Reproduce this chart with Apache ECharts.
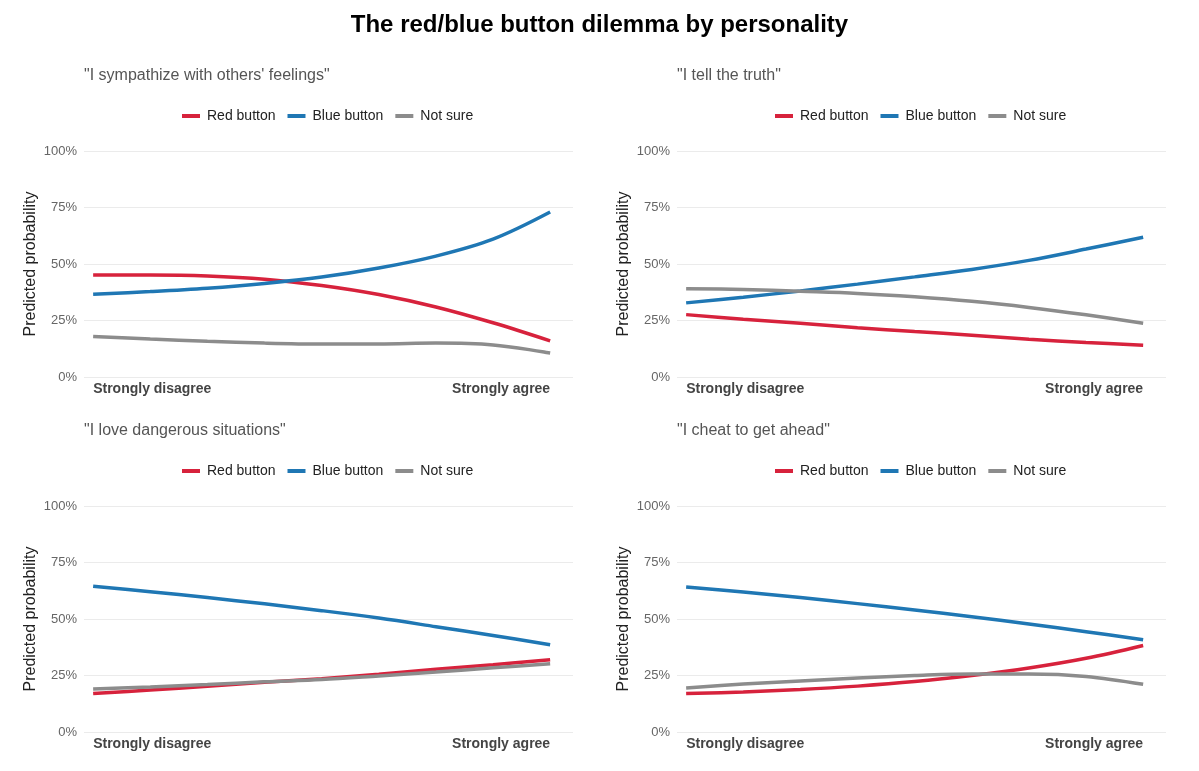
<!DOCTYPE html>
<html>
<head>
<meta charset="utf-8">
<script src="https://cdn.jsdelivr.net/npm/echarts@6/dist/echarts.min.js"></script>
<style>
  html, body { margin: 0; padding: 0; background: #ffffff; }
  #chart { width: 1199px; height: 771px; }
</style>
</head>
<body>
<div id="chart"></div>
<script>
// ---- data ----
const xValues = [1, 1.5, 2, 2.5, 3, 3.5, 4, 4.5, 5];
const xTickValues = [1, 5];
const xTickLabels = ['Strongly disagree', 'Strongly agree'];
const seriesNames = ['Red button', 'Blue button', 'Not sure'];
const panelTitles = [
  '"I sympathize with others\' feelings"',
  '"I tell the truth"',
  '"I love dangerous situations"',
  '"I cheat to get ahead"'
];
const yTicks = [0, 25, 50, 75, 100];

const sympRed  = [45.1, 45.1, 44.7, 43.3, 40.5, 36.5, 31.0, 24.0, 16.0];
const sympBlue = [36.6, 37.8, 39.3, 41.4, 44.2, 48.2, 53.5, 61.0, 73.0];
const sympNot  = [17.9, 16.8, 15.8, 15.0, 14.6, 14.6, 15.0, 14.2, 10.6];

const truthRed  = [27.6, 25.6, 23.8, 21.8, 20.1, 18.5, 16.7, 15.3, 14.1];
const truthBlue = [32.8, 35.3, 38.1, 41.1, 44.3, 47.6, 51.6, 56.6, 61.8];
const truthNot  = [39.1, 38.7, 37.9, 37.0, 35.5, 33.5, 30.8, 27.5, 23.8];

const dangerRed  = [17.0, 18.6, 20.2, 22.0, 23.6, 25.6, 27.8, 29.8, 32.0];
const dangerBlue = [64.5, 62.1, 59.5, 56.7, 53.7, 50.4, 46.6, 42.7, 38.6];
const dangerNot  = [19.0, 19.9, 21.0, 22.2, 23.2, 24.8, 26.5, 28.4, 30.2];

const cheatRed  = [17.0, 17.7, 18.8, 20.3, 22.3, 25.0, 28.3, 32.6, 38.3];
const cheatBlue = [64.2, 61.9, 59.5, 56.8, 54.0, 51.0, 47.8, 44.4, 40.8];
const cheatNot  = [19.5, 21.2, 22.6, 23.9, 25.0, 25.7, 25.7, 24.6, 21.1];

const panels = [
  [sympRed, sympBlue, sympNot],
  [truthRed, truthBlue, truthNot],
  [dangerRed, dangerBlue, dangerNot],
  [cheatRed, cheatBlue, cheatNot]
];

// ---- layout / style ----
const colors = ['#d7223c', '#1f77b4', '#8c8c8c'];
const FONT = '"Liberation Sans", Arial, Helvetica, sans-serif';
const gridPos = [
  { left: 84,  top: 151, width: 489, height: 226 },
  { left: 677, top: 151, width: 489, height: 226 },
  { left: 84,  top: 506, width: 489, height: 226 },
  { left: 677, top: 506, width: 489, height: 226 }
];

const chart = echarts.init(document.getElementById('chart'), null, { renderer: 'canvas' });

const titles = [{
  text: 'The red/blue button dilemma by personality',
  left: 'center',
  top: 8,
  textStyle: { fontFamily: FONT, fontSize: 24, fontWeight: 'bold', color: '#000' }
}];
panelTitles.forEach((t, i) => {
  titles.push({
    text: t,
    left: gridPos[i].left - 5,
    top: gridPos[i].top - 88,
    textStyle: { fontFamily: FONT, fontSize: 16, fontWeight: 'normal', color: '#555' }
  });
});

const legends = gridPos.map(g => ({
  data: seriesNames,
  left: g.left + 93,
  top: g.top - 47,
  width: 360,
  orient: 'horizontal',
  itemWidth: 18,
  itemHeight: 4,
  itemGap: 12,
  icon: 'rect',
  textStyle: { fontFamily: FONT, fontSize: 14, color: '#222', padding: [0, 0, 0, 2] },
  selectedMode: false
}));

const xAxes = gridPos.map((g, i) => ({
  type: 'value',
  gridIndex: i,
  min: 0.92,
  max: 5.2,
  axisLine: { show: false },
  axisTick: { show: false },
  splitLine: { show: false },
  axisLabel: {
    customValues: xTickValues,
    formatter: v => xTickLabels[xTickValues.indexOf(v)] || '',
    alignMinLabel: 'left',
    alignMaxLabel: 'right',
    showMinLabel: true,
    showMaxLabel: true,
    margin: 5,
    fontFamily: FONT,
    fontSize: 14,
    fontWeight: 'bold',
    color: '#444'
  }
}));

const yAxes = gridPos.map((g, i) => ({
  type: 'value',
  gridIndex: i,
  min: 0,
  max: 100,
  interval: 25,
  name: 'Predicted probability',
  nameLocation: 'middle',
  nameGap: 45,
  nameTextStyle: { fontFamily: FONT, fontSize: 16, color: '#222' },
  axisLine: { show: false },
  axisTick: { show: false },
  splitLine: { show: true, lineStyle: { color: '#ebebeb', width: 1 } },
  axisLabel: {
    formatter: '{value}%',
    margin: 7,
    fontFamily: FONT,
    fontSize: 13,
    color: '#666'
  }
}));

const series = [];
panels.forEach((vals, p) => {
  vals.forEach((arr, s) => {
    series.push({
      name: seriesNames[s],
      type: 'line',
      xAxisIndex: p,
      yAxisIndex: p,
      data: xValues.map((x, k) => [x, arr[k]]),
      smooth: 0.35,
      showSymbol: false,
      symbol: 'none',
      lineStyle: { color: colors[s], width: 3.5 },
      itemStyle: { color: colors[s] },
      animation: false
    });
  });
});

chart.setOption({
  backgroundColor: '#ffffff',
  animation: false,
  title: titles,
  legend: legends,
  grid: gridPos.map(g => Object.assign({ containLabel: false }, g)),
  xAxis: xAxes,
  yAxis: yAxes,
  series: series
});
</script>
</body>
</html>
